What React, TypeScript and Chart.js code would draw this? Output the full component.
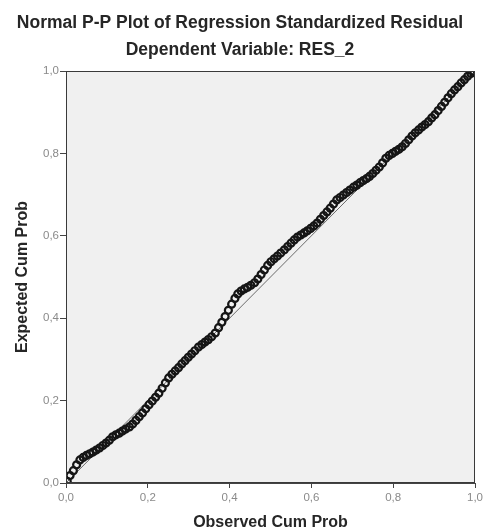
import React, { useEffect, useRef } from "react";
import { Chart, registerables } from "chart.js";

Chart.register(...registerables);

const TITLE = "Normal P-P Plot of Regression Standardized Residual";
const SUBTITLE = "Dependent Variable: RES_2";
const X_TITLE = "Observed Cum Prob";
const Y_TITLE = "Expected Cum Prob";
const TICK_VALUES = [0, 0.2, 0.4, 0.6, 0.8, 1.0];

const observedCumProb = [
  0.003, 0.010, 0.018, 0.026, 0.034, 0.042, 0.050, 0.058, 0.066, 0.074,
  0.082, 0.090, 0.098, 0.106, 0.114, 0.122, 0.130, 0.138, 0.146, 0.155,
  0.163, 0.171, 0.179, 0.187, 0.195, 0.203, 0.211, 0.219, 0.227, 0.235,
  0.243, 0.251, 0.259, 0.267, 0.275, 0.283, 0.291, 0.299, 0.307, 0.315,
  0.324, 0.332, 0.340, 0.348, 0.356, 0.365, 0.373, 0.381, 0.389, 0.397,
  0.405, 0.413, 0.420, 0.428, 0.436, 0.444, 0.452, 0.461, 0.469, 0.477,
  0.485, 0.493, 0.501, 0.509, 0.517, 0.525, 0.534, 0.542, 0.550, 0.558,
  0.566, 0.574, 0.582, 0.590, 0.598, 0.606, 0.614, 0.622, 0.630, 0.638,
  0.646, 0.654, 0.662, 0.670, 0.678, 0.686, 0.694, 0.703, 0.711, 0.719,
  0.727, 0.735, 0.742, 0.750, 0.758, 0.766, 0.774, 0.782, 0.790, 0.798,
  0.806, 0.814, 0.822, 0.830, 0.838, 0.846, 0.854, 0.862, 0.870, 0.878,
  0.886, 0.894, 0.902, 0.910, 0.918, 0.926, 0.934, 0.942, 0.950, 0.958,
  0.966, 0.974, 0.982, 0.990, 0.997,
];

const expectedCumProb = [
  0.004, 0.018, 0.030, 0.044, 0.056, 0.062, 0.067, 0.071, 0.075, 0.080,
  0.085, 0.091, 0.097, 0.104, 0.112, 0.117, 0.121, 0.126, 0.131, 0.136,
  0.143, 0.152, 0.161, 0.170, 0.180, 0.190, 0.199, 0.208, 0.218, 0.230,
  0.243, 0.255, 0.264, 0.272, 0.280, 0.289, 0.297, 0.305, 0.313, 0.321,
  0.330, 0.336, 0.342, 0.348, 0.355, 0.364, 0.377, 0.390, 0.404, 0.419,
  0.434, 0.448, 0.459, 0.466, 0.471, 0.475, 0.480, 0.486, 0.495, 0.506,
  0.517, 0.528, 0.537, 0.544, 0.551, 0.558, 0.566, 0.574, 0.582, 0.590,
  0.597, 0.602, 0.607, 0.612, 0.618, 0.624, 0.631, 0.640, 0.649, 0.658,
  0.667, 0.677, 0.687, 0.693, 0.699, 0.705, 0.711, 0.718, 0.723, 0.729,
  0.734, 0.739, 0.744, 0.751, 0.759, 0.767, 0.777, 0.788, 0.795, 0.800,
  0.805, 0.810, 0.816, 0.824, 0.833, 0.842, 0.850, 0.857, 0.864, 0.870,
  0.877, 0.886, 0.894, 0.904, 0.914, 0.924, 0.935, 0.945, 0.954, 0.962,
  0.971, 0.979, 0.987, 0.994, 0.999,
];

const referenceLine = [
  { x: 0, y: 0 },
  { x: 1, y: 1 },
];

const plotFrame = {
  id: "plotFrame",
  beforeDatasetsDraw(chart: any) {
    const { ctx, chartArea } = chart;
    ctx.save();
    ctx.fillStyle = "#f0f0f0";
    ctx.fillRect(chartArea.left, chartArea.top, chartArea.right - chartArea.left, chartArea.bottom - chartArea.top);
    ctx.restore();
  },
  afterDatasetsDraw(chart: any) {
    const { ctx, chartArea } = chart;
    ctx.save();
    ctx.strokeStyle = "#3a3a3a";
    ctx.lineWidth = 1;
    ctx.strokeRect(chartArea.left + 0.5, chartArea.top + 0.5, chartArea.right - chartArea.left - 1, chartArea.bottom - chartArea.top - 1);
    ctx.restore();
  },
};

const fmt = (v: number) => v.toFixed(1).replace(".", ",");
const FONT = "'Liberation Sans', Arial, sans-serif";

export default function App() {
  const ref = useRef<HTMLCanvasElement | null>(null);

  useEffect(() => {
    document.body.style.margin = "0";
    const points = observedCumProb.map((x, i) => ({ x, y: expectedCumProb[i] }));
    const chart = new Chart(ref.current as HTMLCanvasElement, {
      type: "scatter",
      data: {
        datasets: [
          {
            type: "line",
            data: referenceLine,
            borderColor: "#6a6a6a",
            borderWidth: 1,
            pointRadius: 0,
            fill: false,
            order: 2,
          } as any,
          {
            data: points,
            pointStyle: "circle",
            pointRadius: 3.5,
            borderColor: "#151515",
            borderWidth: 2.2,
            backgroundColor: "rgba(0,0,0,0)",
            order: 1,
          },
        ],
      },
      plugins: [plotFrame],
      options: {
        animation: false,
        responsive: false,
        maintainAspectRatio: false,
        layout: { padding: { left: 0, right: 6, top: 0, bottom: 0 } },
        plugins: {
          legend: { display: false },
          tooltip: { enabled: false },
          title: {
            display: true,
            text: TITLE,
            color: "#262626",
            font: { family: FONT, size: 17.5, weight: "bold" },
            padding: { top: 12.5, bottom: 3 },
          },
          subtitle: {
            display: true,
            text: SUBTITLE,
            color: "#262626",
            font: { family: FONT, size: 17.5, weight: "bold" },
            padding: { top: 3, bottom: 10.5 },
          },
        },
        scales: {
          x: {
            type: "linear",
            min: 0,
            max: 1,
            afterBuildTicks: (scale: any) => {
              scale.ticks = TICK_VALUES.map((v) => ({ value: v }));
            },
            afterFit: (scale: any) => {
              scale.height = 48;
            },
            ticks: {
              callback: (v: any) => fmt(Number(v)),
              color: "#8a8a8a",
              font: { family: FONT, size: 11.5 },
              padding: 3,
              maxRotation: 0,
            },
            grid: { display: true, drawOnChartArea: false, drawTicks: true, tickLength: 5, color: "#444" },
            border: { display: true, color: "#444" },
            title: {
              display: true,
              text: X_TITLE,
              color: "#262626",
              font: { family: FONT, size: 16, weight: "bold" },
              padding: { top: 0, bottom: -1 },
            },
          },
          y: {
            type: "linear",
            min: 0,
            max: 1,
            afterBuildTicks: (scale: any) => {
              scale.ticks = TICK_VALUES.map((v) => ({ value: v }));
            },
            afterFit: (scale: any) => {
              scale.width = 66;
            },
            ticks: {
              callback: (v: any) => fmt(Number(v)),
              color: "#8a8a8a",
              font: { family: FONT, size: 11.5 },
              padding: 1,
            },
            grid: { display: true, drawOnChartArea: false, drawTicks: true, tickLength: 6, color: "#444" },
            border: { display: true, color: "#444" },
            title: {
              display: true,
              text: Y_TITLE,
              color: "#262626",
              font: { family: FONT, size: 16, weight: "bold" },
              padding: { top: 13.4, bottom: 0 },
            },
          },
        },
      },
    });
    return () => chart.destroy();
  }, []);

  return (
    <div style={{ width: 486, height: 531, background: "#fff" }}>
      <canvas ref={ref} width={486} height={531} style={{ display: "block" }} />
    </div>
  );
}
